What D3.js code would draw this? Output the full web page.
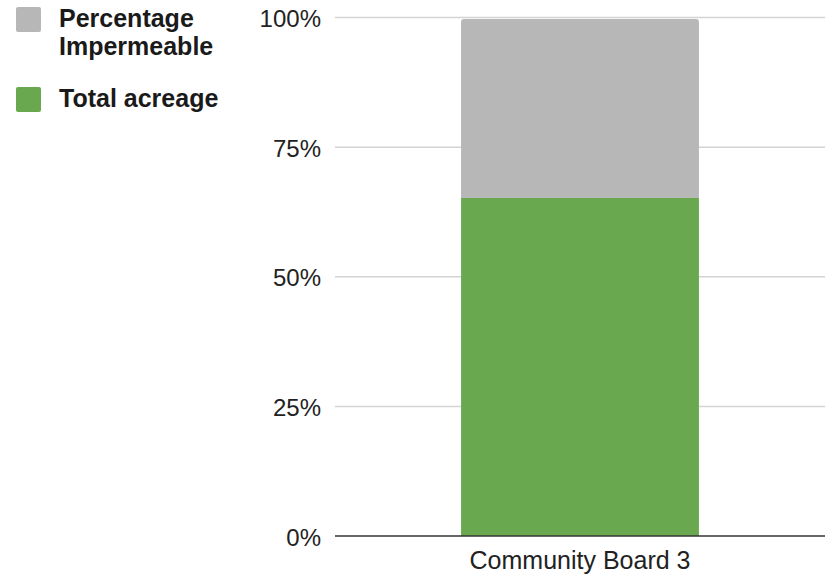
<!DOCTYPE html>
<html>
<head>
<meta charset="utf-8">
<script src="https://cdn.jsdelivr.net/npm/d3@7"></script>
<style>
  body { margin: 0; background: #fff; }
  svg { display: block; font-family: "Liberation Sans", Arial, sans-serif; }
</style>
</head>
<body>
<div id="chart"></div>
<script>
// data
const categories = ["Community Board 3"];
const seriesNames = ["Total acreage", "Percentage Impermeable"];
const totalAcreage = [65.2];
const pctImpermeable = [34.8];
const tickValues = [0, 25, 50, 75, 100];
const colors = { "Total acreage": "#6aa84f", "Percentage Impermeable": "#b7b7b7" };

const width = 825, height = 577;
const margin = { top: 17.5, right: 0, bottom: 41, left: 335 };

const svg = d3.select("#chart").append("svg")
    .attr("width", width)
    .attr("height", height);

const x = d3.scaleBand()
    .domain(categories)
    .range([margin.left, width])
    .paddingInner(0)
    .paddingOuter(0.53);

const y = d3.scaleLinear()
    .domain([0, 100])
    .range([height - margin.bottom, margin.top]);

// gridlines
svg.append("g")
    .selectAll("line")
    .data(tickValues.filter(d => d > 0))
    .join("line")
    .attr("x1", margin.left)
    .attr("x2", width)
    .attr("y1", d => y(d))
    .attr("y2", d => y(d))
    .attr("stroke", "#d4d4d4")
    .attr("stroke-width", 1.5);

// stacked bars
const rows = categories.map((c, i) => ({
    category: c,
    "Total acreage": totalAcreage[i],
    "Percentage Impermeable": pctImpermeable[i]
}));
const stack = d3.stack().keys(seriesNames);
const layers = stack(rows);

const barG = svg.append("g");
layers.forEach((layer, li) => {
    const top = li === layers.length - 1;
    layer.forEach(d => {
        const x0 = x(d.data.category), w = x.bandwidth();
        const y0 = y(d[0]), y1 = y(d[1]) + (top ? 1.5 : 0);
        const r = top ? 3 : 0;
        const p = d3.path();
        p.moveTo(x0, y0);
        p.lineTo(x0, y1 + r);
        p.quadraticCurveTo(x0, y1, x0 + r, y1);
        p.lineTo(x0 + w - r, y1);
        p.quadraticCurveTo(x0 + w, y1, x0 + w, y1 + r);
        p.lineTo(x0 + w, y0);
        p.closePath();
        barG.append("path")
            .attr("d", p.toString())
            .attr("fill", colors[layer.key]);
    });
});

// y axis labels
const yAxis = d3.axisLeft(y)
    .tickValues(tickValues)
    .tickFormat(d => d + "%")
    .tickSize(0)
    .tickPadding(14);
const yg = svg.append("g")
    .attr("transform", `translate(${margin.left},0)`)
    .call(yAxis);
yg.select(".domain").remove();
yg.selectAll("text")
    .attr("font-family", "Liberation Sans, Arial, sans-serif")
    .attr("font-size", 24)
    .attr("fill", "#222")
    .attr("dy", "0.38em");

// baseline
svg.append("line")
    .attr("x1", margin.left)
    .attr("x2", width)
    .attr("y1", y(0))
    .attr("y2", y(0))
    .attr("stroke", "#333")
    .attr("stroke-width", 1.5);

// x axis labels
const xAxis = d3.axisBottom(x).tickSize(0).tickPadding(15);
const xg = svg.append("g")
    .attr("transform", `translate(0,${y(0)})`)
    .call(xAxis);
xg.select(".domain").remove();
xg.selectAll("text")
    .attr("font-family", "Liberation Sans, Arial, sans-serif")
    .attr("font-size", 25)
    .attr("fill", "#222");

// legend
const legendItems = [
    { key: "Percentage Impermeable", lines: ["Percentage", "Impermeable"], y: 7 },
    { key: "Total acreage", lines: ["Total acreage"], y: 87 }
];
const lg = svg.append("g");
legendItems.forEach(item => {
    lg.append("rect")
        .attr("x", 16)
        .attr("y", item.y)
        .attr("width", 25)
        .attr("height", 25)
        .attr("rx", 2)
        .attr("fill", colors[item.key]);
    item.lines.forEach((t, i) => {
        lg.append("text")
            .attr("x", 59)
            .attr("y", item.y + 20 + i * 28)
            .attr("font-size", 25)
            .attr("font-weight", "bold")
            .attr("fill", "#1a1a1a")
            .text(t);
    });
});
</script>
</body>
</html>
